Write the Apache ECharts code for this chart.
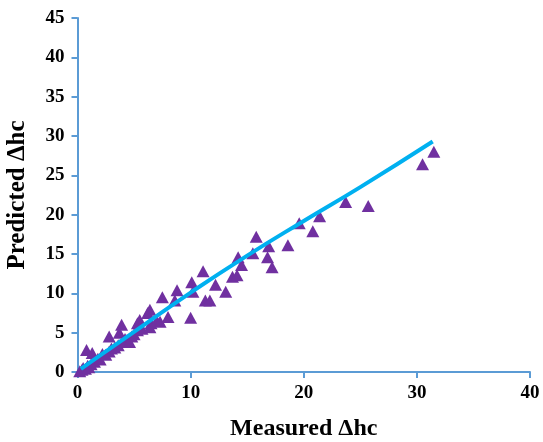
<!DOCTYPE html>
<html><head><meta charset="utf-8">
<script src="https://cdn.jsdelivr.net/npm/echarts@6/dist/echarts.min.js"></script>
<style>html,body{margin:0;padding:0;background:#fff}#c{width:543px;height:442px}</style>
</head><body><div id="c"></div>
<script>
var measured = [0.2,0.4,0.5,0.7,0.8,0.9,1.0,1.2,1.3,1.5,1.8,2.0,2.2,2.5,2.8,2.8,3.0,3.3,3.6,3.7,3.9,4.0,4.2,4.3,4.6,4.8,5.0,5.3,5.3,5.5,5.7,6.2,6.4,6.4,6.5,7.0,7.3,7.5,8.0,8.6,8.8,10.0,10.1,10.2,11.1,11.3,11.7,12.2,13.1,13.7,14.1,14.2,14.5,15.5,15.8,16.8,16.9,17.2,18.6,19.6,20.8,21.4,23.7,25.7,30.5,31.5];
var predicted = [0.1,0.3,0.5,0.4,2.8,0.8,0.6,1.0,2.4,1.3,1.7,1.6,2.3,2.2,2.6,4.5,3.0,3.1,3.4,5.0,6.0,3.8,4.2,4.0,3.8,4.5,4.8,5.3,6.2,6.6,5.5,7.5,7.9,5.7,6.2,6.5,6.4,9.5,7.0,9.1,10.4,6.9,11.4,10.2,12.8,9.1,9.1,11.1,10.2,12.1,12.3,14.6,13.6,15.1,17.2,14.6,16.0,13.3,16.1,18.9,17.9,19.8,21.6,21.1,26.4,28.0];
var fitX = [0.3,2,5,10,15,20,25,31.4];
var fitY = [0.4,2.1,5.1,10.1,14.8,19.2,23.5,29.3];
var xTicks = [0,10,20,30,40];
var yTicks = [0,5,10,15,20,25,30,35,40,45];

var pts = measured.map(function(v,i){return [v,predicted[i]];});
var fit = fitX.map(function(v,i){return [v,fitY[i]];});
var font = '"Liberation Serif","Times New Roman",serif';
var axisCol = '#5B9BD5';
var chart = echarts.init(document.getElementById('c'));
chart.setOption({
  animation:false,
  grid:{left:77.5,right:13,top:18,bottom:70,containLabel:false,outerBoundsMode:'none'},
  xAxis:{type:'value',min:xTicks[0],max:xTicks[xTicks.length-1],interval:10,
    name:'Measured \u0394hc',nameLocation:'middle',nameGap:45,
    nameTextStyle:{fontFamily:font,fontWeight:'bold',fontSize:24,color:'#000'},
    axisLine:{show:true,lineStyle:{color:axisCol,width:2}},
    axisTick:{show:true,inside:false,length:6,lineStyle:{color:axisCol,width:2}},
    axisLabel:{margin:12,fontFamily:font,fontWeight:'bold',fontSize:19,color:'#000'},
    splitLine:{show:false}},
  yAxis:{type:'value',min:yTicks[0],max:yTicks[yTicks.length-1],interval:5,
    name:'Predicted \u0394hc',nameLocation:'middle',nameGap:47,
    nameTextStyle:{fontFamily:font,fontWeight:'bold',fontSize:25,color:'#000'},
    axisLine:{show:true,lineStyle:{color:axisCol,width:2}},
    axisTick:{show:true,inside:false,length:6,lineStyle:{color:axisCol,width:2}},
    axisLabel:{margin:13,fontFamily:font,fontWeight:'bold',fontSize:19,color:'#000'},
    splitLine:{show:false}},
  series:[
    {type:'scatter',data:pts,symbol:'triangle',symbolSize:[13,12],itemStyle:{color:'#7030A0',opacity:1},z:2},
    {type:'line',data:fit,smooth:true,showSymbol:false,lineStyle:{color:'#00B0F0',width:4},z:3}
  ]
});
</script></body></html>
